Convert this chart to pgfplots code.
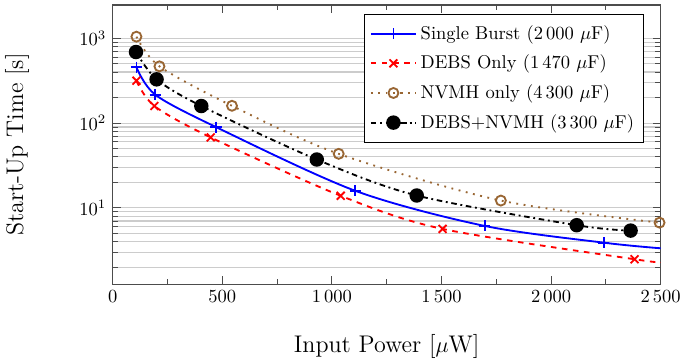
\documentclass[border=0pt]{standalone}
\usepackage{pgfplots}
\pgfplotsset{compat=1.18}
\definecolor{nvmhbrown}{rgb}{0.6,0.4,0.2}
\definecolor{axgray}{gray}{0.3}
\begin{document}
\begin{tikzpicture}
\begin{axis}[
  scale only axis,
  width=295.9pt, height=150.8pt,
  xmin=0, xmax=2500,
  ymode=log, ymin=1.26, ymax=2470,
  xtick={0,500,...,2500},
  minor x tick num=1,
  /pgf/number format/1000 sep={\,},
  ymajorgrids, yminorgrids,
  major grid style={gray!40, line width=0.6pt},
  minor grid style={gray!40, line width=0.6pt},
  axis line style={axgray, line width=0.6pt},
  every tick/.style={axgray, line width=0.5pt},
  tick label style={font=\fontsize{10}{12}\selectfont},
  xlabel={Input Power [$\mu$W]},
  ylabel={Start-Up Time [s]},
  label style={font=\fontsize{13}{15}\selectfont},
  xlabel style={at={(axis description cs:0.5,-0.222)}, anchor=center},
  ylabel style={at={(axis description cs:-0.1746,0.5)}, anchor=center},
  legend style={at={(0.969,0.968)}, anchor=north east, draw=black,
    fill=white, font=\fontsize{10}{12}\selectfont, row sep=3pt,
    inner xsep=3pt, inner ysep=4pt},
  legend cell align=left,
  legend image code/.code={%
    \draw[mark=none] plot coordinates {(0cm,0cm) (0.86cm,0cm)};
    \draw plot coordinates {(0.43cm,0cm)};},
]
\addplot[blue, line width=1pt, smooth, mark=+, mark size=3pt, mark indices={1,...,6}, mark options={solid}]
  coordinates {(108,455) (194,216) (471,89.8) (1107,15.9) (1697,6.13) (2241,3.89) (2500,3.34)};
\addlegendentry{Single Burst (2\,000~$\mu$F)}
\addplot[red, line width=1pt, dashed, smooth, mark=x, mark size=3pt, mark indices={1,...,6}, mark options={solid}]
  coordinates {(108,316) (190,159) (447,67.8) (1040,13.9) (1505,5.65) (2381,2.48) (2500,2.30)};
\addlegendentry{DEBS Only (1\,470~$\mu$F)}
\addplot[nvmhbrown, line width=1pt, dash pattern=on 1pt off 3pt, smooth, mark=o, mark size=2.7pt, mark options={solid}]
  coordinates {(108,1045) (213,467) (544,160) (1031,43.4) (1771,12.2) (2495,6.70)};
\addlegendentry{NVMH only (4\,300~$\mu$F)}
\addplot[black, line width=1pt, dashdotted, smooth, mark=*, mark size=3.4pt, mark options={solid}]
  coordinates {(106,689) (200,328) (404,159) (931,37.2) (1387,14.0) (2117,6.25) (2363,5.40)};
\addlegendentry{DEBS+NVMH (3\,300~$\mu$F)}
\end{axis}
\pgfresetboundingbox
\useasboundingbox ([shift={(-60.9pt,-40.9pt)}]current axis.south west) rectangle ([shift={(13.7pt,2.7pt)}]current axis.north east);
\end{tikzpicture}
\end{document}
